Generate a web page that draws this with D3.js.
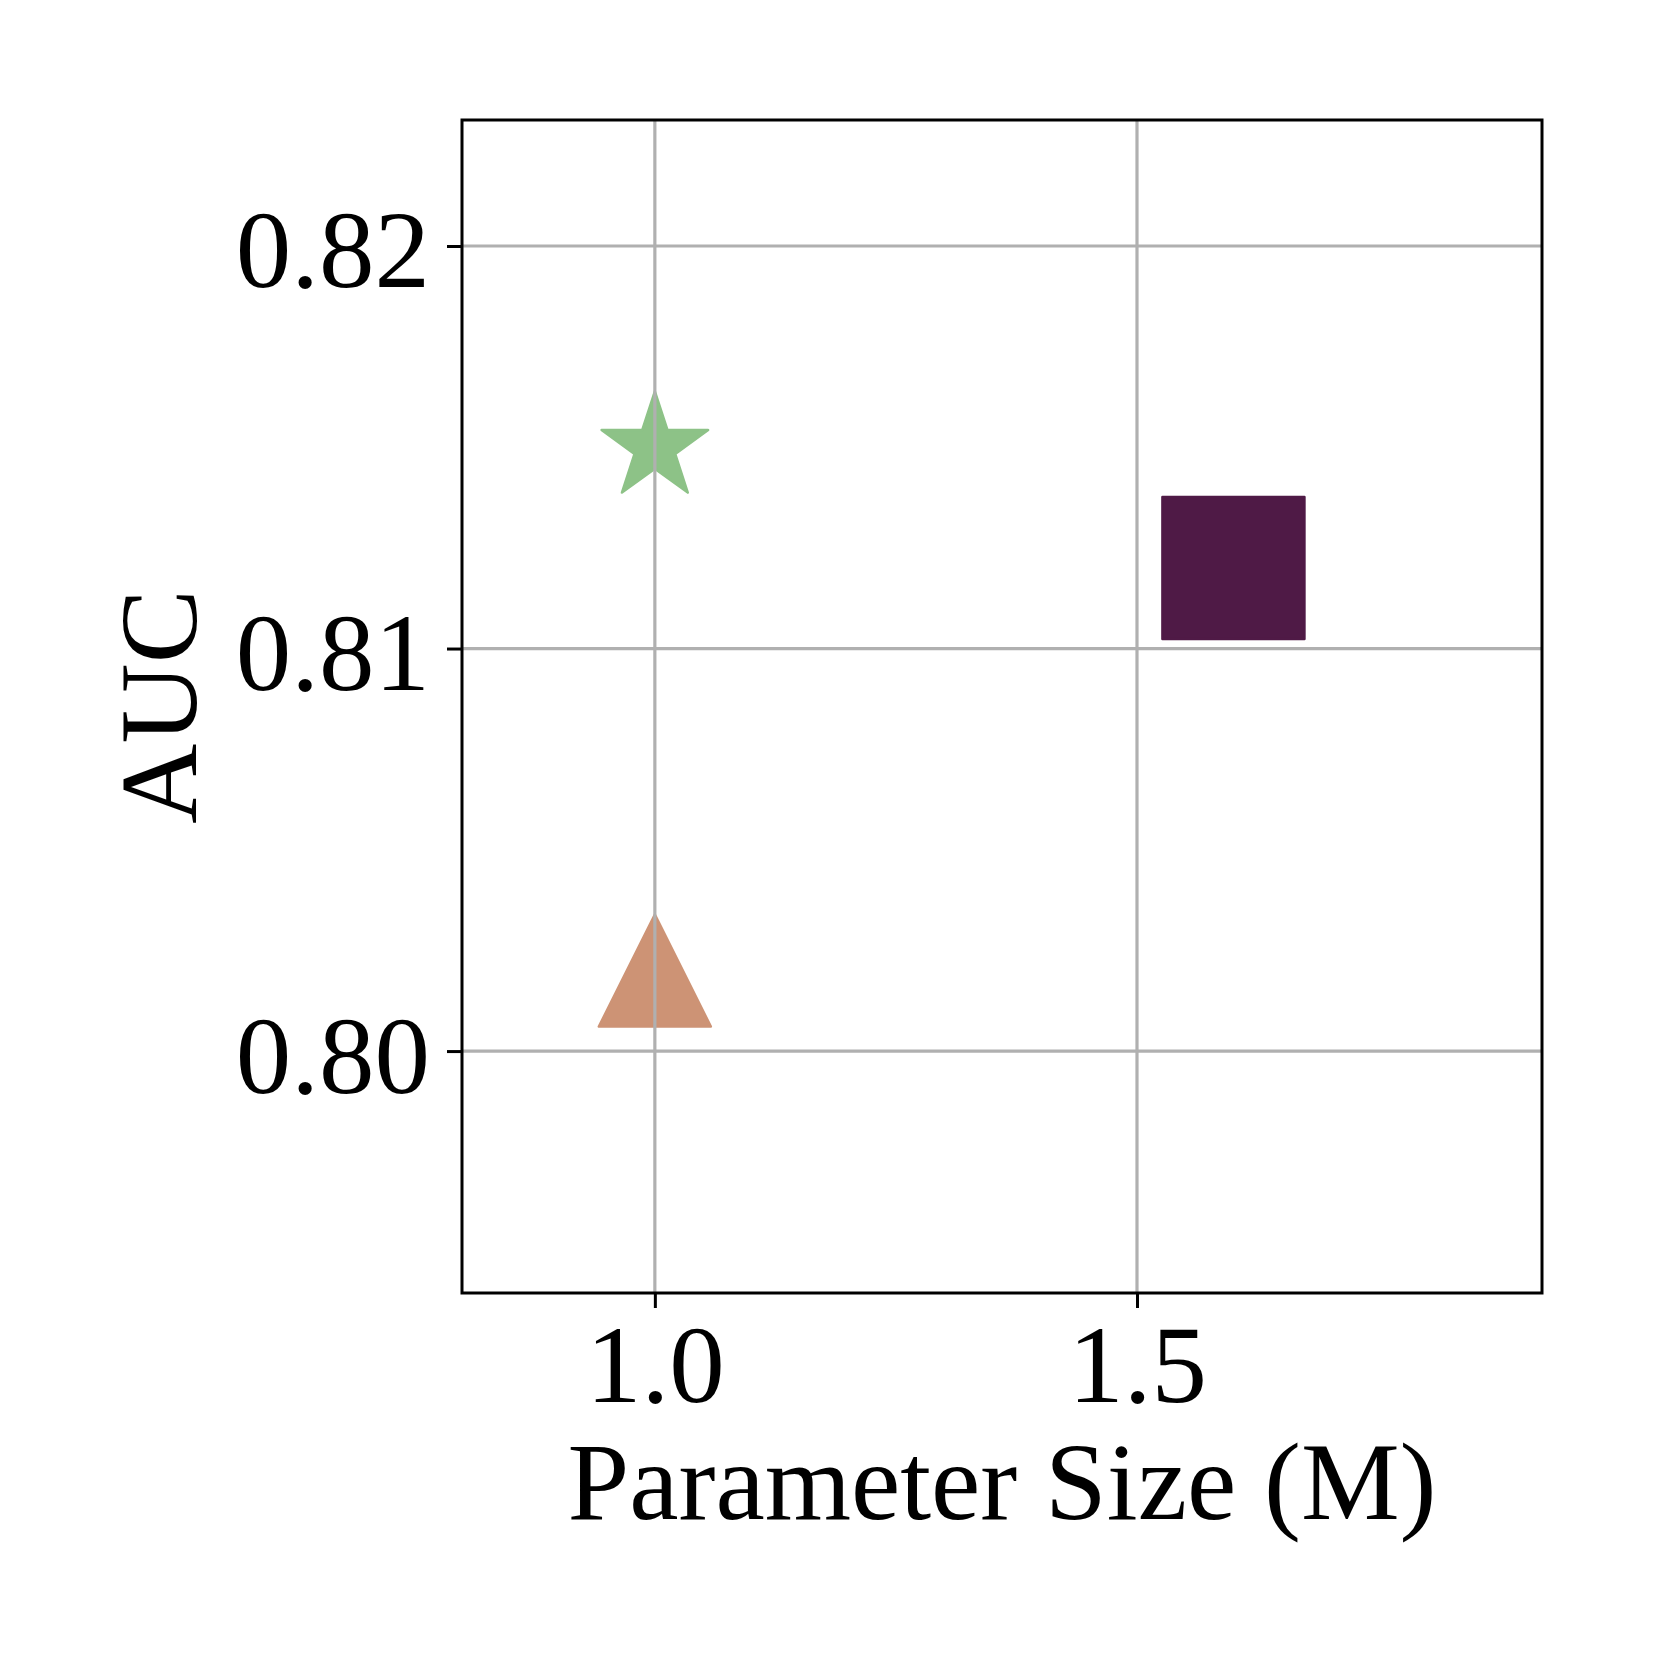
<!DOCTYPE html>
<html>
<head>
<meta charset="utf-8">
<script src="https://cdn.jsdelivr.net/npm/d3@7"></script>
<style>
  html, body { margin: 0; padding: 0; background: #fff; }
  svg { display: block; }
</style>
</head>
<body>
<svg id="chart" width="1662" height="1662"></svg>
<script>
// ---- data ----
const paramSize = [1.0, 1.6, 1.0];          // x: Parameter Size (M)
const aucValue  = [0.815, 0.812, 0.802];    // y: AUC
const markerShape = ["star", "square", "triangle"];
const markerColor = ["#8dc287", "#4f1a46", "#cd9375"];
const xTicks = [1.0, 1.5];
const yTicks = [0.80, 0.81, 0.82];
const xLabel = "Parameter Size (M)";
const yLabel = "AUC";

// ---- layout ----
const W = 1662, H = 1662;
const plot = { left: 462, right: 1542, top: 120, bottom: 1293 };
const FONT = "'Liberation Serif', 'Times New Roman', serif";

const svg = d3.select("#chart");
svg.append("rect").attr("width", W).attr("height", H).attr("fill", "#fff");

const x = d3.scaleLinear().domain([0.8, 1.92]).range([plot.left, plot.right]);
const y = d3.scaleLinear().domain([0.79399, 0.82313]).range([plot.bottom, plot.top]);

// ---- markers ----
function markerPath(shape) {
  const p = d3.path();
  if (shape === "star") {
    const R = 56, r = R * 0.381966;
    for (let i = 0; i < 10; i++) {
      const rad = i % 2 === 0 ? R : r;
      const a = Math.PI / 2 + i * Math.PI / 5;
      const px = rad * Math.cos(a), py = -rad * Math.sin(a);
      if (i === 0) p.moveTo(px, py); else p.lineTo(px, py);
    }
    p.closePath();
  } else if (shape === "square") {
    const h = 71;
    p.rect(-h, -h, 2 * h, 2 * h);
  } else if (shape === "triangle") {
    const h = 56;
    p.moveTo(0, -h); p.lineTo(-h, h); p.lineTo(h, h); p.closePath();
  }
  return p.toString();
}

const pts = paramSize.map((v, i) => ({ x: v, y: aucValue[i], shape: markerShape[i], color: markerColor[i] }));

svg.append("g").selectAll("path").data(pts).join("path")
  .attr("transform", d => `translate(${x(d.x)},${y(d.y)})`)
  .attr("d", d => markerPath(d.shape))
  .attr("fill", d => d.color)
  .attr("stroke", d => d.color)
  .attr("stroke-width", 2.5)
  .attr("stroke-linejoin", "round");

// ---- grid (drawn above markers, as in reference) ----
const grid = svg.append("g").attr("stroke", "#b0b0b0").attr("stroke-width", 3.2);
grid.selectAll("line.gx").data(xTicks).join("line").attr("class", "gx")
  .attr("x1", d => x(d)).attr("x2", d => x(d))
  .attr("y1", plot.top).attr("y2", plot.bottom);
grid.selectAll("line.gy").data(yTicks).join("line").attr("class", "gy")
  .attr("y1", d => y(d)).attr("y2", d => y(d))
  .attr("x1", plot.left).attr("x2", plot.right);

// ---- axes ----
const xAxis = svg.append("g")
  .attr("transform", `translate(0,${plot.bottom})`)
  .call(d3.axisBottom(x).tickValues(xTicks).tickFormat(d3.format(".1f")).tickSize(15).tickSizeOuter(0));
xAxis.select(".domain").remove();
xAxis.selectAll(".tick line").attr("stroke", "#000").attr("stroke-width", 3);
xAxis.selectAll(".tick text")
  .attr("dy", null).attr("y", 109)
  .attr("font-family", FONT).attr("font-size", 111).attr("fill", "#000");

const yAxis = svg.append("g")
  .attr("transform", `translate(${plot.left},0)`)
  .call(d3.axisLeft(y).tickValues(yTicks).tickFormat(d3.format(".2f")).tickSize(15).tickSizeOuter(0));
yAxis.select(".domain").remove();
yAxis.selectAll(".tick line").attr("stroke", "#000").attr("stroke-width", 3);
yAxis.selectAll(".tick text")
  .attr("dy", null).attr("y", 41).attr("x", -32)
  .attr("font-family", FONT).attr("font-size", 111).attr("fill", "#000");

// ---- frame ----
svg.append("rect")
  .attr("x", plot.left).attr("y", plot.top)
  .attr("width", plot.right - plot.left).attr("height", plot.bottom - plot.top)
  .attr("fill", "none").attr("stroke", "#000").attr("stroke-width", 3);

// ---- labels ----
svg.append("text")
  .attr("x", (plot.left + plot.right) / 2).attr("y", 1519)
  .attr("text-anchor", "middle")
  .attr("font-family", FONT).attr("font-size", 111).attr("fill", "#000")
  .text(xLabel);

svg.append("text")
  .attr("transform", `translate(196,${(plot.top + plot.bottom) / 2}) rotate(-90)`)
  .attr("text-anchor", "middle")
  .attr("font-family", FONT).attr("font-size", 111).attr("fill", "#000")
  .text(yLabel);
</script>
</body>
</html>
